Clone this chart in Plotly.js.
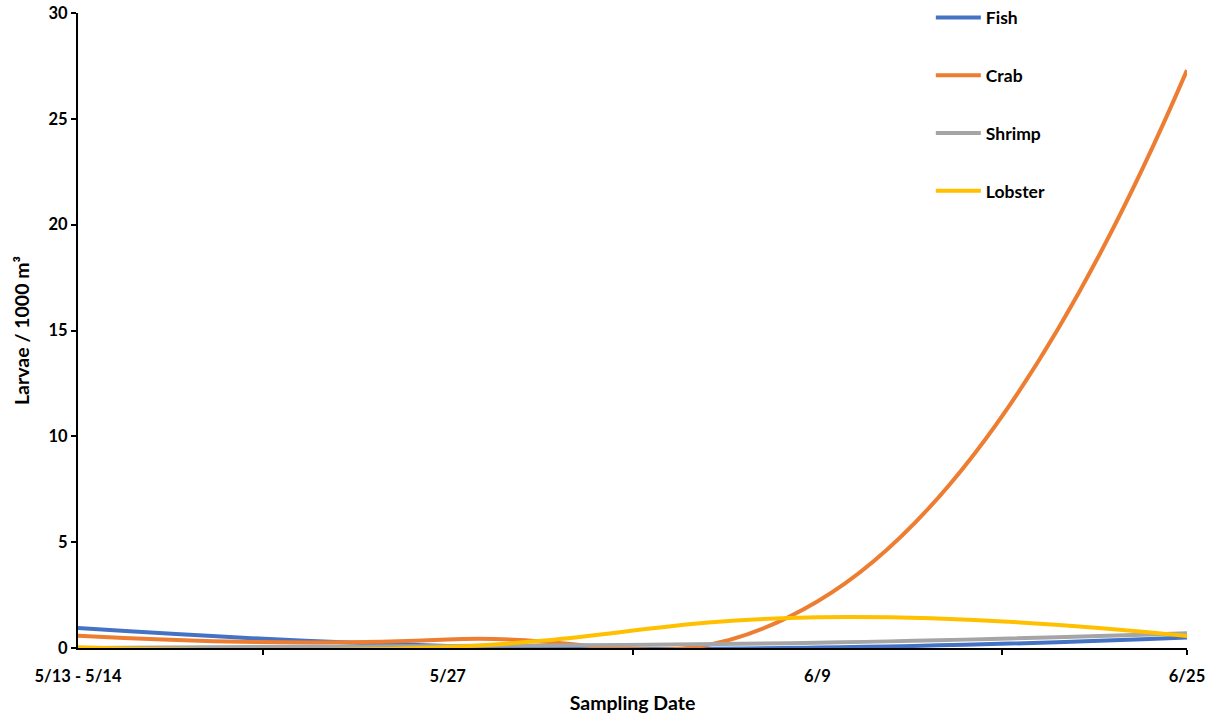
<!DOCTYPE html>
<html>
<head>
<meta charset="utf-8">
<script src="https://cdn.plot.ly/plotly-3.0.1.min.js"></script>
<style>html,body{margin:0;padding:0;background:#fff;}#chart{width:1211px;height:715px;}</style>
</head>
<body>
<div id="chart"></div>
<script>
const categories = ["5/13 - 5/14", "5/27", "6/9", "6/25"];
const fish    = [0.94, 0.10, 0.02, 0.50];
const crab    = [0.58, 0.40, 2.20, 27.3];
const shrimp  = [0.00, 0.10, 0.25, 0.70];
const lobster = [0.03, 0.05, 1.45, 0.57];
const seriesNames = ["Fish", "Crab", "Shrimp", "Lobster"];
const seriesColors = ["#4472C4", "#ED7D31", "#A5A5A5", "#FFC000"];
const yTicks = [0, 5, 10, 15, 20, 25, 30];

const xIdx = categories.map((c, i) => i);
const allSeries = [fish, crab, shrimp, lobster];
const FONT = "Lato, 'Open Sans', 'DejaVu Sans', sans-serif";

const traces = allSeries.map((vals, k) => ({
  x: xIdx,
  y: vals,
  name: seriesNames[k],
  legendgroup: "g" + k,
  type: "scatter",
  mode: "lines",
  line: {color: seriesColors[k], width: 4, shape: "spline", smoothing: 1.3},
  hoverinfo: "skip"
}));

const layout = {
  width: 1211, height: 715,
  margin: {l: 78, r: 24, t: 13, b: 67, autoexpand: false},
  paper_bgcolor: "#fff", plot_bgcolor: "#fff",
  font: {family: FONT, size: 16, color: "#000", weight: "bold"},
  showlegend: true,
  legend: {
    x: 0.769, y: 1.021, xanchor: "left", yanchor: "top",
    bgcolor: "rgba(0,0,0,0)", tracegroupgap: 32,
    font: {family: FONT, size: 17.5, color: "#000", weight: "bold"},
    itemwidth: 45
  },
  xaxis: {
    range: [0, 3],
    tickmode: "array", tickvals: xIdx, ticktext: categories,
    ticks: "outside", ticklen: 12, tickcolor: "rgba(0,0,0,0)",
    showline: true, linecolor: "#000", linewidth: 2,
    showgrid: false, zeroline: false,
    tickfont: {family: FONT, size: 16.5, color: "#000", weight: "bold"},
    minor: {tickmode: "array", tickvals: [0.5, 1.5, 2.5, 3], ticks: "outside", ticklen: 5, tickwidth: 2, tickcolor: "#000", showgrid: false},
    title: {text: "Sampling Date", standoff: 12, font: {family: FONT, size: 19.5, color: "#000", weight: "bold"}}
  },
  yaxis: {
    range: [0, 30],
    tickmode: "array", tickvals: yTicks,
    ticks: "outside", ticklen: 5, tickwidth: 2, tickcolor: "#000",
    showline: true, linecolor: "#000", linewidth: 2,
    showgrid: false, zeroline: false,
    tickfont: {family: FONT, size: 16.5, color: "#000", weight: "bold"},
    title: {text: "Larvae / 1000 m³", standoff: 14, font: {family: FONT, size: 19.5, color: "#000", weight: "bold"}}
  }
};

Plotly.newPlot("chart", traces, layout, {displayModeBar: false, staticPlot: true});
</script>
</body>
</html>
